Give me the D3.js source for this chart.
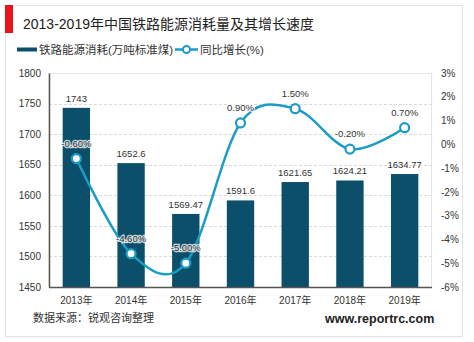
<!DOCTYPE html>
<html><head><meta charset="utf-8">
<script src="https://cdn.jsdelivr.net/npm/d3@7"></script>
<style>body{margin:0;background:#fff}svg text{font-family:"Liberation Sans","Noto Sans CJK SC",sans-serif}</style>
</head><body><svg id="c" width="474" height="342"></svg>
<script>
const categories = ["2013年","2014年","2015年","2016年","2017年","2018年","2019年"];
const consumption = [1743, 1652.6, 1569.47, 1591.6, 1621.65, 1624.21, 1634.77];
const consumptionLabels = ["1743","1652.6","1569.47","1591.6","1621.65","1624.21","1634.77"];
const growth = [-0.6, -4.6, -5.0, 0.9, 1.5, -0.2, 0.7];
const growthLabels = ["-0.60%","-4.60%","-5.00%","0.90%","1.50%","-0.20%","0.70%"];
const leftTicks = [1450,1500,1550,1600,1650,1700,1750,1800];
const rightTicks = [-6,-5,-4,-3,-2,-1,0,1,2,3];
const title = "2013-2019年中国铁路能源消耗量及其增长速度";
const seriesNames = ["铁路能源消耗(万吨标准煤)","同比增长(%)"];
const source = "数据来源：锐观咨询整理";
const site = "www.reportrc.com";

const barColor = "#0c4f6b", lineColor = "#1b9cc6";
const svg = d3.select("#c");
const L = 49, R = 432, T = 73, B = 287;

// outer frame
svg.append("rect").attr("x",5.5).attr("y",5.5).attr("width",457).attr("height",331)
  .attr("fill","#fff").attr("stroke","#e3e3e3");
svg.append("rect").attr("x",5).attr("y",5).attr("width",8).attr("height",28).attr("fill","#e8141b");
svg.append("text").attr("x",23).attr("y",28.5).attr("font-size",14).attr("fill","#222").text(title);

// legend
svg.append("rect").attr("x",17).attr("y",47.5).attr("width",20).attr("height",4).attr("fill",barColor);
svg.append("text").attr("x",39).attr("y",54).attr("font-size",11.5).attr("fill","#333").text(seriesNames[0]);
svg.append("line").attr("x1",175).attr("x2",198).attr("y1",49.5).attr("y2",49.5).attr("stroke",lineColor).attr("stroke-width",2.5);
svg.append("circle").attr("cx",186.5).attr("cy",49.5).attr("r",3.5).attr("fill","#fff").attr("stroke",lineColor).attr("stroke-width",2);
svg.append("text").attr("x",200).attr("y",54).attr("font-size",11.5).attr("fill","#333").text(seriesNames[1]);

const x = d3.scaleBand().domain(categories).range([L,R]).paddingInner(0.5).paddingOuter(0.25);
const y = d3.scaleLinear().domain([1450,1800]).range([B,T]);
const y2 = d3.scaleLinear().domain([-6,3]).range([B,T]);

// plot frame
svg.append("rect").attr("x",L).attr("y",T+0.5).attr("width",R-L-0.5).attr("height",B-T).attr("fill","none").attr("stroke","#e6e6e6");
// grid
svg.append("g").selectAll("line").data(leftTicks.slice(1,-1)).join("line")
  .attr("x1",L).attr("x2",R).attr("y1",d=>Math.round(y(d))+0.5).attr("y2",d=>Math.round(y(d))+0.5)
  .attr("stroke","#d9d9d9").attr("stroke-dasharray","3,2");

// bars
svg.append("g").selectAll("rect").data(consumption).join("rect")
  .attr("x",(d,i)=>x(categories[i])).attr("width",x.bandwidth())
  .attr("y",d=>y(d)).attr("height",d=>B-y(d)).attr("fill",barColor);
svg.append("g").selectAll("text").data(consumption).join("text")
  .attr("x",(d,i)=>x(categories[i])+x.bandwidth()/2).attr("y",d=>y(d)-6)
  .attr("text-anchor","middle").attr("font-size",9.5).attr("fill","#333")
  .text((d,i)=>consumptionLabels[i]);

// axes
const ax = svg.append("g").attr("transform",`translate(${L},0)`)
  .call(d3.axisLeft(y).tickValues(leftTicks).tickFormat(d3.format("d")).tickSize(0).tickPadding(8));
ax.select(".domain").attr("stroke","#555").attr("stroke-width",1.5);
ax.selectAll("text").attr("font-size",10).attr("fill","#333");
const ar = svg.append("g").attr("transform",`translate(${R},0)`)
  .call(d3.axisRight(y2).tickValues(rightTicks).tickFormat(d=>d+"%").tickSize(0).tickPadding(9));
ar.select(".domain").remove();
ar.selectAll("text").attr("font-size",10).attr("fill","#333");
const axb = svg.append("g").attr("transform",`translate(0,${B})`)
  .call(d3.axisBottom(x).tickSize(0).tickPadding(10));
axb.select(".domain").attr("stroke","#555").attr("stroke-width",1.5).attr("d",`M${L},0.5H${R}`);
axb.selectAll("text").attr("font-size",10).attr("fill","#333");

// line
const pts = growth.map((g,i)=>[x(categories[i])+x.bandwidth()/2, y2(g)]);
svg.append("path").attr("d",d3.line().curve(d3.curveCardinal.tension(0))(pts))
  .attr("fill","none").attr("stroke",lineColor).attr("stroke-width",2.5);
svg.append("g").selectAll("circle").data(pts).join("circle")
  .attr("cx",d=>d[0]).attr("cy",d=>d[1]).attr("r",4.5)
  .attr("fill","#fff").attr("stroke",lineColor).attr("stroke-width",2.2);
svg.append("g").selectAll("text").data(pts).join("text")
  .attr("x",d=>d[0]).attr("y",d=>d[1]-12).attr("text-anchor","middle")
  .attr("font-size",9.5).attr("fill","#333")
  .attr("stroke","rgba(255,255,255,0.75)").attr("stroke-width",2.5).attr("paint-order","stroke")
  .text((d,i)=>growthLabels[i]);

svg.append("text").attr("x",33).attr("y",322).attr("font-size",11).attr("fill","#333").text(source);
svg.append("text").attr("x",325).attr("y",323).attr("font-size",12.5).attr("font-weight","bold").attr("fill","#222").text(site);
</script></body></html>
